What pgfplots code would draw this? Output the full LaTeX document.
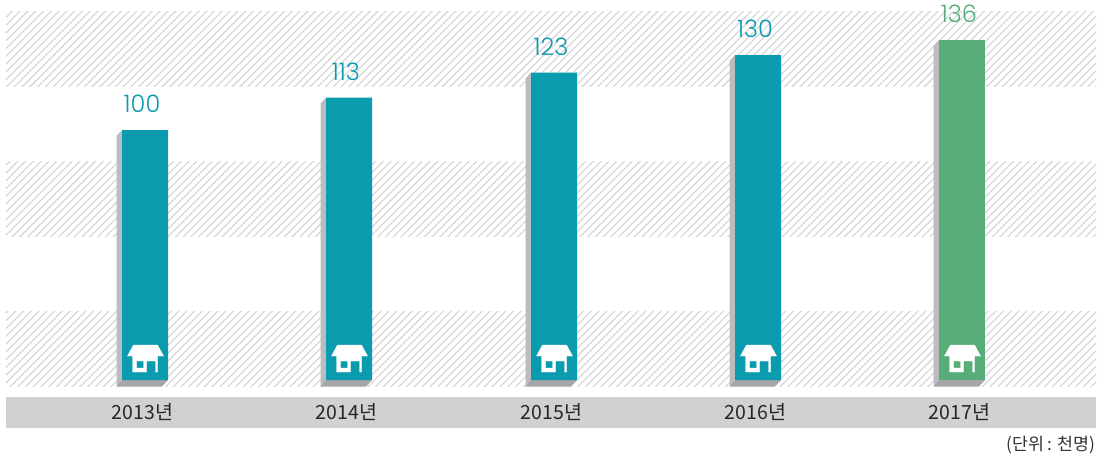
\documentclass[border=0pt]{standalone}
\usepackage{fontspec}
\usepackage{pgfplots}
\pgfplotsset{compat=1.18}
\usetikzlibrary{patterns.meta}
\setmainfont{Noto Sans CJK KR}
\newfontfamily\valfont{Poppins Light}
\definecolor{teal1}{HTML}{0B9BAE}
\definecolor{green1}{HTML}{56AD78}
\definecolor{sideg}{HTML}{BBBCC0}
\definecolor{botg}{HTML}{A5A6A8}
\definecolor{strip}{HTML}{D0D1D3}
\definecolor{hatch}{HTML}{D2D3D5}
\pgfdeclareplotmark{house}{%
  \fill[white,even odd rule]
    (-12pt,15pt)--(12pt,15pt)--(18pt,4pt)--(12pt,4pt)--(12pt,-12pt)--(10pt,-12pt)--(10pt,-1pt)--(1pt,-1pt)--(1pt,-12pt)--(-13pt,-12pt)--(-13pt,4pt)--(-18pt,4pt)--cycle
    (-9pt,-1pt)--(-2pt,-1pt)--(-2pt,-8pt)--(-9pt,-8pt)--cycle;
}
\begin{document}
\begin{tikzpicture}
\useasboundingbox (0,0) rectangle (1103pt,459pt);
\begin{axis}[
  at={(0,0)},anchor=south west,
  scale only axis,width=1103pt,height=459pt,
  xmin=0,xmax=1103,ymin=-31.6,ymax=152,
  axis line style={draw=none},
  axis on top,
  major tick length=0pt,
  ytick=\empty,
  xtick={145,349,554,758,962},
  xticklabels={2013년,2014년,2015년,2016년,2017년},
  xticklabel style={anchor=center,yshift=47pt,xshift=-2.5pt,font=\fontsize{19.5}{22}\selectfont,text=black!85},
  clip=false,
  /pgf/number format/assume math mode=true,
  nodes near coords style={anchor=center,yshift=26pt,xshift=-3pt,font=\fontsize{24}{26}\selectfont\valfont},
]
% hatched bands
\fill[pattern={Lines[angle=45,distance=5.5pt,line width=1.1pt]},pattern color=hatch] (axis cs:6,117.4) rectangle (axis cs:1096,147.6);
\fill[pattern={Lines[angle=45,distance=5.5pt,line width=1.1pt]},pattern color=hatch] (axis cs:6,57.4) rectangle (axis cs:1096,87.6);
\fill[pattern={Lines[angle=45,distance=5.5pt,line width=1.1pt]},pattern color=hatch] (axis cs:6,-2.4) rectangle (axis cs:1096,27.6);
\fill[strip] (axis cs:6,-6.8) rectangle (axis cs:1096,-19.2);
% bar sides
\addplot[fill=sideg,draw=none] coordinates {(116.5,97.6)(122,100)(122,0)(116.5,-2.6)} --cycle;
\addplot[fill=sideg,draw=none] coordinates {(320.5,110.6)(326,113)(326,0)(320.5,-2.6)} --cycle;
\addplot[fill=sideg,draw=none] coordinates {(525.5,120.6)(531,123)(531,0)(525.5,-2.6)} --cycle;
\addplot[fill=sideg,draw=none] coordinates {(729.5,127.6)(735,130)(735,0)(729.5,-2.6)} --cycle;
\addplot[fill=sideg,draw=none] coordinates {(933.5,133.6)(939,136)(939,0)(933.5,-2.6)} --cycle;
% bar bottoms
\addplot[fill=botg,draw=none] coordinates {(116.5,-2.6)(122,0)(168,0)(162,-2.6)} --cycle;
\addplot[fill=botg,draw=none] coordinates {(320.5,-2.6)(326,0)(372,0)(366,-2.6)} --cycle;
\addplot[fill=botg,draw=none] coordinates {(525.5,-2.6)(531,0)(577,0)(571,-2.6)} --cycle;
\addplot[fill=botg,draw=none] coordinates {(729.5,-2.6)(735,0)(781,0)(775,-2.6)} --cycle;
\addplot[fill=botg,draw=none] coordinates {(933.5,-2.6)(939,0)(985,0)(979,-2.6)} --cycle;
% bars
\addplot[ybar,bar width=46pt,bar shift=0pt,fill=teal1,draw=none,nodes near coords,
  every node near coord/.append style={text=teal1}] coordinates {(145,100)(349,113)(554,123)(758,130)};
\addplot[ybar,bar width=46pt,bar shift=0pt,fill=green1,draw=none,nodes near coords,
  every node near coord/.append style={text=green1}] coordinates {(962,136)};
% house icons
\addplot[only marks,mark=house] coordinates {(145.5,8)(349.5,8)(554.5,8)(758.5,8)(962.5,8)};
\node[anchor=east,font=\fontsize{17.3}{19}\selectfont,text=black!80] at (axis cs:1099,-26) {(단위 : 천명)};
\end{axis}
\end{tikzpicture}
\end{document}
